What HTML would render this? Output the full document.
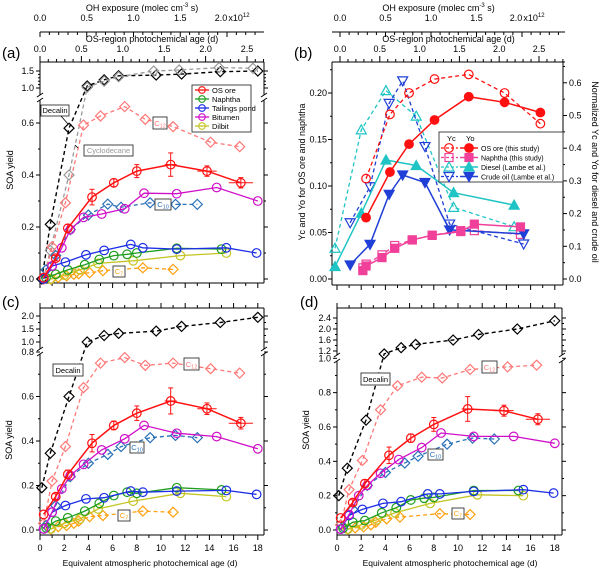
<!DOCTYPE html>
<html><head><meta charset="utf-8"><style>
body{margin:0;background:#fff}
svg{display:block;font-family:"Liberation Sans",sans-serif}
</style></head><body>
<svg id="s" width="600" height="570" viewBox="0 0 600 570" xmlns="http://www.w3.org/2000/svg"></svg>
<script>
// ---------- data (panels a, c, d : x = equivalent age in days) ----------
const ageOsOre=[0.3,1.3,2.3,4.3,6.1,8.0,10.8,13.8,16.6];
const osOreA=[0.005,0.08,0.195,0.315,0.37,0.415,0.44,0.415,0.37];
const osOreC=[0.07,0.15,0.25,0.39,0.47,0.525,0.58,0.545,0.48];
const osOreD=[0.07,0.16,0.27,0.435,0.535,0.615,0.705,0.695,0.645];
const osOreErrA=[0,0.01,0.015,0.03,0.015,0.025,0.045,0.02,0.02];
const osOreXErr=[0,0,0,0,0,0,0.5,0.8,1.0];
const ageNaph=[0.5,1.3,2.3,3.7,4.9,6.1,7.2,8.0,11.3,15.0];
const naphA=[0.005,0.018,0.035,0.055,0.075,0.09,0.095,0.1,0.118,0.115];
const naphC=[0.01,0.04,0.055,0.085,0.12,0.155,0.17,0.165,0.19,0.18];
const naphD=[0.01,0.045,0.055,0.1,0.13,0.175,0.185,0.19,0.23,0.23];
const ageTail=[0.3,1.0,2.1,3.8,5.3,7.5,8.5,11.3,15.4,17.9];
const tailA=[0.0,0.05,0.065,0.093,0.11,0.133,0.12,0.115,0.12,0.10];
const tailC=[0.005,0.08,0.11,0.14,0.145,0.175,0.17,0.175,0.178,0.16];
const tailD=[0.005,0.085,0.12,0.155,0.165,0.21,0.21,0.225,0.235,0.215];
const ageBit=[0.3,1.0,1.8,2.5,3.6,5.1,7.0,8.6,11.3,14.6,18.0];
const bitA=[0.005,0.05,0.12,0.19,0.237,0.25,0.27,0.33,0.328,0.352,0.30];
const bitC=[0.005,0.08,0.185,0.245,0.295,0.36,0.41,0.47,0.435,0.42,0.365];
const bitD=[0.005,0.09,0.2,0.26,0.33,0.41,0.48,0.565,0.545,0.545,0.505];
const ageDil=[0.9,2.0,3.3,4.8,7.7,11.6,15.4];
const dilA=[0.0,0.015,0.035,0.06,0.07,0.09,0.1];
const dilC=[0.005,0.03,0.05,0.095,0.13,0.165,0.15];
const dilD=[0.005,0.03,0.06,0.1,0.155,0.205,0.2];
const ageDec=[0.15,0.85,2.4,3.9,5.3,6.5,9.6,11.7,14.9,18.0];
const decA=[0.0,0.21,0.58,1.06,1.24,1.36,1.38,1.41,1.48,1.5];
const decC=[0.19,0.345,0.6,1.0,1.25,1.33,1.42,1.6,1.75,1.95];
const decD=[0.2,0.36,0.64,1.12,1.32,1.44,1.6,1.8,2.0,2.3];
const ageCyc=[0.3,0.85,2.4,3.9,5.3,6.5,9.4,11.5,14.8,17.6];
const cycA=[0.0,0.11,0.40,1.02,1.2,1.33,1.5,1.53,1.6,1.58];
const ageC12=[0.3,1.0,2.1,3.6,5.0,7.0,8.7,11.0,14.1,16.5];
const c12A=[0.0,0.124,0.293,0.592,0.627,0.663,0.614,0.586,0.526,0.509];
const c12C=[0.03,0.22,0.375,0.64,0.75,0.775,0.74,0.75,0.725,0.705];
const c12D=[0.03,0.235,0.405,0.70,0.84,0.89,0.885,0.935,0.95,0.96];
const ageC10=[0.5,1.3,2.5,4.0,5.6,6.7,9.1,11.2,13.0];
const c10A=[0.035,0.09,0.19,0.246,0.288,0.276,0.293,0.287,0.287];
const c10C=[0.02,0.11,0.24,0.30,0.34,0.375,0.415,0.425,0.415];
const c10D=[0.02,0.12,0.26,0.335,0.39,0.43,0.50,0.535,0.53];
const ageC7=[0.9,1.5,2.2,2.8,3.2,4.1,5.2,8.5,11.0];
const c7A=[0.0,0.006,0.012,0.018,0.02,0.024,0.032,0.043,0.037];
const c7C=[0.005,0.015,0.02,0.03,0.04,0.06,0.065,0.085,0.08];
const c7D=[0.005,0.012,0.018,0.03,0.045,0.065,0.075,0.095,0.09];
// ---------- panel b data (x = OS-region photochemical age, d) ----------
const bOsAge=[0.34,0.64,0.88,1.20,1.63,2.08,2.53];
const bOsYo=[0.066,0.115,0.145,0.171,0.196,0.190,0.179];
const bOsYc=[0.108,0.177,0.200,0.215,0.220,0.200,0.167];
const bNaAge=[0.30,0.34,0.54,0.70,0.92,1.17,1.53,1.70,2.28];
const bNaYo=[0.009,0.014,0.023,0.033,0.042,0.047,0.051,0.059,0.056];
const bNaYc=[0.012,0.016,0.026,0.036,0.042,0.047,0.052,0.052,0.048];
const bDiAge=[-0.05,0.28,0.59,0.97,1.44,2.20];
const bDiYc=[0.094,0.456,0.576,0.498,0.219,0.160];
const bDiYo=[0.038,0.201,0.364,0.347,0.264,0.226];
const bCrAge=[0.14,0.39,0.63,0.80,1.08,1.39,2.32];
const bCrYc=[0.172,0.282,0.537,0.606,0.405,0.168,0.107];
const bCrYo=[0.043,0.106,0.259,0.318,0.295,0.150,0.138];

const S=document.getElementById('s');
const NS='http://www.w3.org/2000/svg';
function el(tag,at,parent,txt){const e=document.createElementNS(NS,tag);for(const k in at)e.setAttribute(k,at[k]);if(txt!==undefined)e.textContent=txt;(parent||S).appendChild(e);return e;}
function line(x1,y1,x2,y2,c,w,g){return el('line',{x1,y1,x2,y2,stroke:c||'#000','stroke-width':w||1},g);}
function text(x,y,t,size,anchor,g,fill){return el('text',{x,y,'font-size':size||9,'text-anchor':anchor||'middle',fill:fill||'#000'},g,t);}

function marker(g,type,x,y,c){
  let m;
  if(type==='circle'||type==='fcircle') m=el('circle',{cx:x,cy:y,r:4.3,fill:type==='fcircle'?c:'none',stroke:c,'stroke-width':1.2},g);
  else if(type==='diamond') m=el('path',{d:`M${x} ${y-5}L${x+5} ${y}L${x} ${y+5}L${x-5} ${y}Z`,fill:'none',stroke:c,'stroke-width':1.2},g);
  else if(type==='square'||type==='fsquare') m=el('rect',{x:x-4,y:y-4,width:8,height:8,fill:type==='fsquare'?c:'none',stroke:c,'stroke-width':1.2},g);
  else if(type==='tri'||type==='ftri') m=el('path',{d:`M${x} ${y-5}L${x+5} ${y+4}L${x-5} ${y+4}Z`,fill:type==='ftri'?c:'none',stroke:c,'stroke-width':1.2},g);
  else m=el('path',{d:`M${x} ${y+5}L${x+5} ${y-4}L${x-5} ${y-4}Z`,fill:type==='fdtri'?c:'none',stroke:c,'stroke-width':1.2},g);
  
  
}
function series(name,xs,ys,X,Y,c,dash,mk,w){
  const g=el('g',{},S);
  
  
  const pts=xs.map((d,i)=>X(d).toFixed(1)+','+Y(ys[i]).toFixed(1)).join(' ');
  const pl=el('polyline',{points:pts,fill:'none',stroke:c,'stroke-width':w||1.3,'stroke-dasharray':dash?'4,3':'none'},g);
  
  
  xs.forEach((d,i)=>marker(g,mk,X(d),Y(ys[i]),c));
  return g;
}
function errbars(xs,ys,ye,xe,X,Y,c){
  xs.forEach((d,i)=>{
    if(ye[i]>0){line(X(d),Y(ys[i]-ye[i]),X(d),Y(ys[i]+ye[i]),c,1);line(X(d)-2.5,Y(ys[i]-ye[i]),X(d)+2.5,Y(ys[i]-ye[i]),c,1);line(X(d)-2.5,Y(ys[i]+ye[i]),X(d)+2.5,Y(ys[i]+ye[i]),c,1);}
    if(xe[i]>0){line(X(d-xe[i]),Y(ys[i]),X(d+xe[i]),Y(ys[i]),c,1);}
  });
}
function label(x,y,w,h,t,sub,c){
  const g=el('g',{},S);
  
  
  el('rect',{x,y,width:w,height:h,fill:'#fff',stroke:'#333','stroke-width':0.9},g);
  const tx=el('text',{x:x+w/2,y:y+h-3,'font-size':7.5,'text-anchor':'middle',fill:c},g);
  tx.appendChild(document.createTextNode(t));
  if(sub){el('tspan',{'font-size':5.5,dy:1.5},tx,sub);}
}

// ---------- top axes (a,b) ----------
function topAxes(x0,ohScale,osScale,xL,xR,tag){
  line(xL,32,xR,32);
  for(let v=0;v<=2.41;v+=0.1){const x=x0+v*ohScale;if(x>xR)break;line(x,32,x,Math.abs(v*2-Math.round(v*2))<0.01?37:35);}
  [0,0.5,1,1.5].forEach(v=>text(x0+v*ohScale,21,v.toFixed(1),9));
  text(x0+2*ohScale-6,21,'2.0',9);
  const tx=text(x0+2*ohScale+12,21,'x10',9);el('tspan',{'font-size':6,dy:-4},tx,'12');
  const ot=text((xL+xR)/2-10,11,'OH exposure (molec cm',9);
  el('tspan',{'font-size':6,dy:-4},ot,'-3');el('tspan',{dy:4},ot,' s)');
  line(xL,62,xR,62);
  for(let v=0;v<=2.81;v+=0.1){const x=x0+v*osScale;if(x>xR)break;line(x,62,x,Math.abs(v*2-Math.round(v*2))<0.01?56:59);}
  [0,0.5,1,1.5,2,2.5].forEach(v=>text(x0+v*osScale,52,v.toFixed(1),9));
  text((xL+xR)/2,42,'OS-region photochemical age (d)',9);
  text(xL-38,58,tag,15,'start');
}
const XA=d=>40+d*12.1;
const YA=v=>v<=0.69?279-v*260:(v>=1?88-(v-1)*34:100-(v-0.69)/0.31*12);
const XC=d=>40+d*12.1;
const YC=v=>v<=0.8?530-v*222.5:(v>=1?342-(v-1)*26:352-(v-0.8)/0.2*10);
const XD=d=>337+d*12.1;
const YD=v=>v<=1?530-v*171.7:(v>=1.2?351-(v-1.2)*27.5:358.3-(v-1)/0.2*7.3);
const XB=a=>339+a*79.6;
const YBL=v=>279-v*930;
const YBR=v=>279-v*327;

topAxes(40,93.5,82.8,40,264,'(a)');
function brokenY(xl,xr,top,bot,brTop,brBot,Y,ticksLo,ticksHi,labLo,labHi,minor){
  line(xl,top,xr,top);line(xl,bot,xr,bot);
  line(xl,top,xl,brTop);line(xl,brBot,xl,bot);line(xr,top,xr,brTop);line(xr,brBot,xr,bot);
  line(xl-3,brTop+2,xl+3,brTop-2);line(xl-3,brBot+2,xl+3,brBot-2);
  line(xr-3,brTop+2,xr+3,brTop-2);line(xr-3,brBot+2,xr+3,brBot-2);
  ticksLo.forEach(v=>{const y=Y(v);line(xl-4,y,xl,y);line(xr,y,xr+4,y);});
  ticksHi.forEach(v=>{const y=Y(v);line(xl-4,y,xl,y);line(xr,y,xr+4,y);});
  minor.forEach(v=>{const y=Y(v);line(xl-2,y,xl,y);line(xr,y,xr+2,y);});
  labLo.forEach(v=>text(xl-6,Y(v)+3,v.toFixed(1),9,'end'));
  labHi.forEach(v=>text(xl-6,Y(v)+3,v.toFixed(1),9,'end'));
}
brokenY(40,264,62,283,95,100,YA,[0,0.2,0.4,0.6],[1.0,1.5],[0,0.2,0.4,0.6],[1.0,1.5],[0.1,0.3,0.5,1.1,1.2,1.3,1.4]);
for(let d=0;d<=18;d++){line(XA(d),283,XA(d),d%2===0?288:286);}
const yt=text(0,0,'SOA yield',9);yt.setAttribute('transform','translate(13,170) rotate(-90)');

brokenY(40,264,308,535,349,354,YC,[0,0.2,0.4,0.6,0.8],[1.0,1.5,2.0],[0,0.2,0.4,0.6,0.8],[1.0,1.5,2.0],[0.1,0.3,0.5,0.7,1.25,1.75]);
for(let d=0;d<=18;d++){line(XC(d),535,XC(d),d%2===0?540:538);line(XC(d),308,XC(d),d%2===0?303:305);}
[0,2,4,6,8,10,12,14,16,18].forEach(d=>text(XC(d),551,String(d),9));
text(150,566,'Equivalent atmospheric photochemical age (d)',8.5);
text(2,307,'(c)',15,'start');
const yc=text(0,0,'SOA yield',9);yc.setAttribute('transform','translate(12,440) rotate(-90)');

brokenY(337,562,308,535,355,361,YD,[0,0.2,0.4,0.6,0.8,1.0],[1.2,1.6,2.0,2.4],[0,0.2,0.4,0.6,0.8,1.0],[1.2,1.6,2.0,2.4],[0.1,0.3,0.5,0.7,0.9,1.4,1.8,2.2]);
for(let d=0;d<=18;d++){line(XD(d),535,XD(d),d%2===0?540:538);line(XD(d),308,XD(d),d%2===0?303:305);}
[0,2,4,6,8,10,12,14,16,18].forEach(d=>text(XD(d),551,String(d),9));
text(450,566,'Equivalent atmospheric photochemical age (d)',8.5);
text(300,307,'(d)',15,'start');
const yd=text(0,0,'SOA yield',9);yd.setAttribute('transform','translate(309,430) rotate(-90)');

topAxes(340,91,79.6,332,565,'(b)');
line(332,62,332,285);line(563,62,563,285);line(332,285,563,285);
[0,0.05,0.1,0.15,0.2].forEach(v=>{line(328,YBL(v),332,YBL(v));text(327,YBL(v)+3,v.toFixed(2),9,'end');});
[0.025,0.075,0.125,0.175,0.225].forEach(v=>line(330,YBL(v),332,YBL(v)));
[0,0.1,0.2,0.3,0.4,0.5,0.6].forEach(v=>{line(563,YBR(v),567,YBR(v));text(569,YBR(v)+3,v.toFixed(1),9,'start');});
[0.05,0.15,0.25,0.35,0.45,0.55,0.65].forEach(v=>line(563,YBR(v),565,YBR(v)));
for(let d=0;d<=18;d++){const x=337+d*12.1;if(x<=563)line(x,285,x,d%2===0?290:288);}
const bl=text(0,0,'Yc and Yo for OS ore and naphtha',9);bl.setAttribute('transform','translate(305,172) rotate(-90)');
const br=text(0,0,'Normalized Yc and Yo for diesel and crude oil',9);br.setAttribute('transform','translate(592,172) rotate(90)');

const COL={os:'#ff1010',na:'#1e9e1e',ta:'#1c2ee6',bi:'#d010c8',di:'#c4c424',de:'#000',cy:'#999',c12:'#ff7878',c10:'#2a70b8',c7:'#ffa010'};
function panel(X,Y,p){
  series('decalin-'+p,ageDec,p==='a'?decA:p==='c'?decC:decD,X,Y,COL.de,true,'diamond',1.4);
  if(p==='a')series('cyclodecane-a',ageCyc,cycA,X,Y,COL.cy,true,'diamond',1.3);
  series('c12-'+p,ageC12,p==='a'?c12A:p==='c'?c12C:c12D,X,Y,COL.c12,true,'diamond');
  series('c10-'+p,ageC10,p==='a'?c10A:p==='c'?c10C:c10D,X,Y,COL.c10,true,'diamond');
  series('c7-'+p,ageC7,p==='a'?c7A:p==='c'?c7C:c7D,X,Y,COL.c7,true,'diamond');
  series('dilbit-'+p,ageDil,p==='a'?dilA:p==='c'?dilC:dilD,X,Y,COL.di,false,'circle');
  series('naphtha-'+p,ageNaph,p==='a'?naphA:p==='c'?naphC:naphD,X,Y,COL.na,false,'circle');
  series('tailings-pond-'+p,ageTail,p==='a'?tailA:p==='c'?tailC:tailD,X,Y,COL.ta,false,'circle');
  series('bitumen-'+p,ageBit,p==='a'?bitA:p==='c'?bitC:bitD,X,Y,COL.bi,false,'circle');
  const os=p==='a'?osOreA:p==='c'?osOreC:osOreD;
  const sc=p==='a'?1:p==='c'?1.3:1.6;
  errbars(ageOsOre,os,osOreErrA.map(e=>e*sc),osOreXErr,X,Y,COL.os);
  series('os-ore-'+p,ageOsOre,os,X,Y,COL.os,false,'circle',1.5);
}
panel(XA,YA,'a');panel(XC,YC,'c');panel(XD,YD,'d');

label(41,105,28,11,'Decalin','', '#000');
label(84,145,49,11,'Cyclodecane','','#999');
label(153,117,14,12,'C','12',COL.c12);
label(155,199,16,11,'C','10',COL.c10);
label(113,266,12,11,'C','7',COL.c7);
label(53,364,30,12,'Decalin','','#000');
label(184,358,15,12,'C','12',COL.c12);
label(130,442,14,11,'C','10',COL.c10);
label(118,510,12,11,'C','7',COL.c7);
label(361,373,29,12,'Decalin','','#000');
label(482,361,15,12,'C','12',COL.c12);
label(428,449,15,11,'C','10',COL.c10);
label(452,508,12,11,'C','7',COL.c7);
line(61,116,68,124,'#000',0.8);line(78,148,75,145,'#000',0.8);

(function(){
  const g=el('g',{},S);
  
  
  el('rect',{x:192,y:85,width:59,height:47,fill:'#fff',stroke:'#333','stroke-width':0.9},g);
  [['OS ore',COL.os],['Naphtha',COL.na],['Tailings pond',COL.ta],['Bitumen',COL.bi],['Dilbit',COL.di]].forEach((e,i)=>{
    const y=90+i*9;
    const eg=el('g',{},g);
    
    
    line(195,y,209,y,e[1],1.3,eg);el('circle',{cx:202,cy:y,r:3.3,fill:'none',stroke:e[1],'stroke-width':1.1},eg);
    text(212,y+3,e[0],7.5,'start',eg);
  });
})();

const BC={os:'#ff1010',na:'#f0409a',di:'#20c4c4',cr:'#1f3fd6'};
series('diesel-yc',bDiAge,bDiYc,XB,YBR,BC.di,true,'tri');
series('crude-yc',bCrAge,bCrYc,XB,YBR,BC.cr,true,'dtri');
series('os-ore-yc',bOsAge,bOsYc,XB,YBL,BC.os,true,'circle');
series('naphtha-yc',bNaAge,bNaYc,XB,YBL,BC.na,true,'square');
series('diesel-yo',bDiAge,bDiYo,XB,YBR,BC.di,false,'ftri',1.5);
series('crude-yo',bCrAge,bCrYo,XB,YBR,BC.cr,false,'fdtri',1.5);
series('os-ore-yo',bOsAge,bOsYo,XB,YBL,BC.os,false,'fcircle',1.5);
series('naphtha-yo',bNaAge,bNaYo,XB,YBL,BC.na,false,'fsquare',1.5);
(function(){
  const g=el('g',{},S);
  
  
  el('rect',{x:439,y:132,width:124,height:50,fill:'#fff',stroke:'#333','stroke-width':0.9},g);
  text(447,141,'Yc',7.5,'start',g);text(466,141,'Yo',7.5,'start',g);
  [['OS ore (this study)',BC.os,'circle','fcircle'],['Naphtha (this study)',BC.na,'square','fsquare'],['Diesel (Lambe et al.)',BC.di,'tri','ftri'],['Crude oil (Lambe et al.)',BC.cr,'dtri','fdtri']].forEach((e,i)=>{
    const y=148+i*9.5;
    const eg=el('g',{},g);
    
    
    el('line',{x1:441,y1:y,x2:458,y2:y,stroke:e[1],'stroke-width':1.2,'stroke-dasharray':'3,2'},eg);
    marker(eg,e[2],449,y,e[1]);
    line(460,y,478,y,e[1],1.4,eg);marker(eg,e[3],469,y,e[1]);
    text(481,y+3,e[0],7,'start',eg);
  });
})();
</script>
</body></html>
